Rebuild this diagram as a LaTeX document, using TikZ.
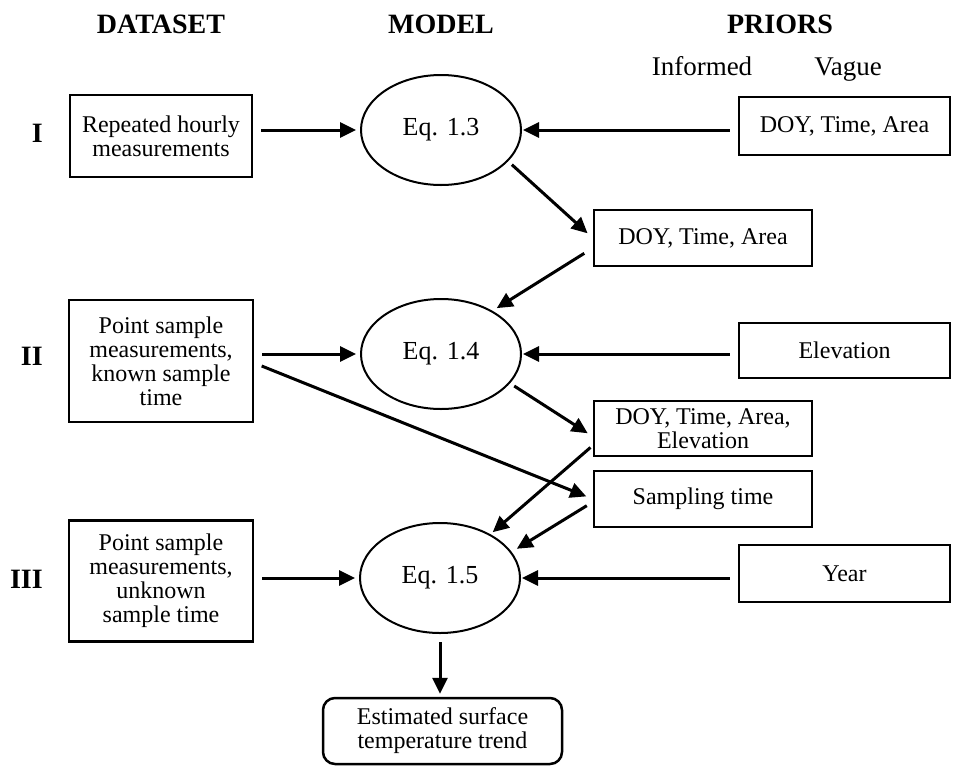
\documentclass[tikz,border=0pt]{standalone}
\usepackage{fontspec}
\setmainfont{Liberation Serif}
\usetikzlibrary{arrows.meta, shapes.geometric}
\tikzset{
  every picture/.style={line width=2.5pt},
  box/.style={draw, rectangle, align=center, inner sep=2pt, font=\fontsize{24}{24}\selectfont},
  model/.style={draw, ellipse, minimum width=160pt, minimum height=110pt, inner sep=0pt, line width=2pt, font=\fontsize{26}{28}\selectfont},
  arrow/.style={-{Triangle[length=16pt, width=15pt]}, line width=3pt, shorten <=8pt, shorten >=4pt},
  title/.style={font=\fontsize{28}{30}\selectfont\bfseries, anchor=base, inner sep=0pt},
  note/.style={font=\fontsize{27}{30}\selectfont, anchor=base, inner sep=0pt},
}

\begin{document}
\begin{tikzpicture}[x=1pt, y=-1pt]
  \useasboundingbox (0,0) rectangle (953,766);
  % column heads
  \node[title] (hData) at (161,33) {DATASET};
  \node[title] (hModel) at (441,33) {MODEL};
  \node[title] (hPriors) at (780,33) {PRIORS};
  \node[note] (hInformed) at (702,75) {Informed};
  \node[note] (hVague) at (848,75) {Vague};
  % row numbers
  \foreach \r/\y in {I/133, II/356, III/579}
    \node[title, anchor=east] (row\r) at (44,\y) {\r};
  % datasets
  \node[box, minimum width=182pt, minimum height=82pt] (dsA) at (161,136) {Repeated hourly\\measurements};
  \node[box, minimum width=184pt, minimum height=122pt] (dsB) at (161,361) {Point sample\\measurements,\\known sample\\time};
  \node[box, minimum width=184pt, minimum height=121pt] (dsC) at (161,581) {Point sample\\measurements,\\unknown\\sample time};
  % models
  \node[model] (eqA) at (441,130) {Eq. 1.3};
  \node[model] (eqB) at (441,354) {Eq. 1.4};
  \node[model] (eqC) at (440,578) {Eq. 1.5};
  % vague priors
  \node[box, minimum width=211pt, minimum height=58pt] (vagA) at (844.5,126) {DOY, Time, Area};
  \node[box, minimum width=211pt, minimum height=55pt] (vagB) at (844.5,350.5) {Elevation};
  \node[box, minimum width=211pt, minimum height=57pt] (vagC) at (844.5,573.5) {Year};
  % informed priors
  \node[box, minimum width=218pt, minimum height=56pt] (infA) at (703,238) {DOY, Time, Area};
  \node[box, minimum width=218pt, minimum height=55pt] (infB) at (703,428.5) {DOY, Time, Area,\\Elevation};
  \node[box, minimum width=218pt, minimum height=56pt] (infC) at (703,499) {Sampling time};
  % result
  \node[box, rounded corners=12pt, minimum width=239pt, minimum height=66pt] (trend) at (442.5,731) {Estimated surface\\temperature trend};
  % arrows in and out of the models
  \foreach \d/\e/\p in {dsA/eqA/vagA, dsB/eqB/vagB, dsC/eqC/vagC} {
    \draw[arrow] (\d.east |- \e.west) -- (\e.west);
    \draw[arrow, shorten >=1pt] (\e.east -| \p.west) -- (\e.east);
  }
  \draw[arrow, shorten <=5pt, shorten >=7pt] (eqA.-25) -- (infA.west);
  \draw[arrow, shorten <=10pt, shorten >=5pt] ([yshift=-10pt]infA.west) -- (eqB.40);
  \draw[arrow, shorten <=5pt, shorten >=6pt] (eqB.-23) -- ([yshift=-8pt]infB.west);
  \draw[arrow, shorten >=7pt] ([yshift=-2pt]dsB.east) -- (infC.west);
  \draw[arrow, shorten <=3pt, shorten >=3pt] ([yshift=-17pt]infB.west) -- (eqC.41);
  \draw[arrow, shorten <=7pt, shorten >=6pt] ([yshift=-3pt]infC.west) -- (eqC.20);
  \draw[arrow, shorten >=3pt] (eqC.south) -- (eqC.south |- trend.north);
\end{tikzpicture}
\end{document}
